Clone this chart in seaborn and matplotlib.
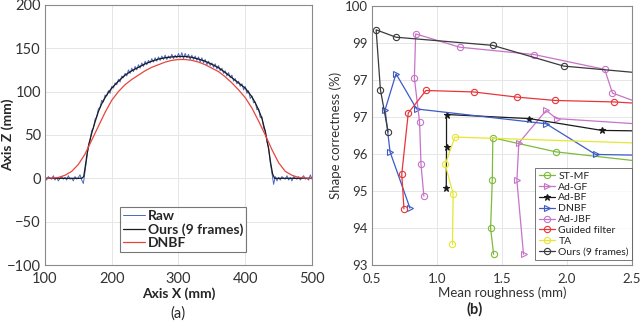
import numpy as np
import pandas as pd
import matplotlib
matplotlib.use("Agg")
import matplotlib.pyplot as plt
import seaborn as sns

sns.set_theme(style="whitegrid")
plt.rcParams['font.family'] = ['Lato', 'DejaVu Sans']

# ---------------- panel (a) data ----------------
raw_z = [
    # 100 .. 155
    1, -2, 2, 0, -1, 3, -2, 1, -3, 0, 2, -1, 1, -2, 3, -1, 0, -3, 2, -1, 1, 4, -2,
    # 157.5 .. 445
    -6, 8, 22, 38, 44, 55, 58, 68, 71, 80, 82, 90, 88, 96, 95, 101, 98, 106, 104, 110,
    108, 114, 111, 118, 116, 121, 118, 125, 121, 127, 123, 129, 125, 131, 127, 133, 129,
    135, 131, 136, 133, 138, 134, 139, 135, 140, 136, 141, 137, 142, 137, 141, 138, 143,
    138, 142, 139, 144, 139, 145, 138, 144, 139, 143, 137, 142, 137, 141, 136, 140, 134,
    139, 133, 137, 131, 135, 130, 133, 128, 132, 126, 130, 124, 127, 121, 124, 118, 122,
    116, 119, 112, 115, 109, 112, 106, 109, 102, 106, 98, 101, 92, 95, 87, 88, 79, 80,
    70, 71, 58, 55, 42, 35, 18, 6, -7, 2,
    # 447.5 .. 500
    -3, 1, -2, 2, 0, -1, 3, -2, 1, -3, 2, 0, -1, 2, -2, 1, 3, -1, 0, -2, 4, -1,
]
raw_x = np.arange(100, 500.01, 2.5)

ours_x = [100, 155, 158, 160, 163, 166, 170, 175, 180, 185, 190, 195, 200, 210, 220,
          230, 240, 250, 260, 270, 280, 290, 300, 310, 320, 330, 340, 350, 360, 370,
          380, 390, 400, 405, 410, 415, 420, 425, 430, 435, 438, 441, 444, 500]
ours_z = [0, 0, 2, 12, 28, 40, 52, 65, 77, 86, 93, 99, 104, 112, 119,
          124, 128, 132, 135, 137.5, 139, 140, 140.5, 140.5, 139.5, 137.5, 135, 131.5, 127.5, 122,
          116, 110, 104, 99, 94, 87, 79, 69, 54, 34, 18, 5, 0, 0]

dnbf_x = [100, 110, 120, 130, 140, 150, 160, 170, 180, 190, 200, 210, 220, 230, 240,
          250, 260, 270, 280, 290, 300, 310, 320, 330, 340, 350, 360, 370, 380, 390,
          400, 410, 420, 430, 440, 450, 460, 470, 480, 490, 500]
dnbf_z = [0, 0.3, 1, 3.5, 8, 16, 28, 44, 60, 76, 90, 100, 108, 114, 119,
          124, 128, 131, 134, 136, 137, 137, 136, 134, 131, 127, 123, 117, 110, 102,
          93, 81, 66, 50, 33, 18, 8, 3.5, 1, 0.3, 0]

# ---------------- panel (b) data ----------------
series_b = {
    "ST-MF": ([1.436, 1.413, 1.426, 1.43, 1.916, 2.7],
              [93.29, 94.0, 95.29, 96.44, 96.06, 95.75]),
    "Ad-GF": ([1.666, 1.615, 1.63, 1.84, 1.92, 2.7],
              [93.29, 95.29, 96.3, 97.18, 96.96, 96.78]),
    "Ad-BF": ([1.072, 1.074, 1.074, 1.71, 2.268, 2.7],
              [95.09, 96.19, 97.07, 96.96, 96.64, 96.62]),
    "DNBF": ([0.793, 0.64, 0.602, 0.686, 0.844, 1.84, 2.22, 2.7],
             [94.54, 96.06, 97.2, 98.17, 97.22, 96.82, 95.99, 95.96]),
    "Ad-JBF": ([0.90, 0.878, 0.867, 0.827, 0.837, 1.176, 1.75, 2.29, 2.35, 2.7],
               [94.86, 95.72, 96.86, 98.06, 99.25, 98.89, 98.69, 98.29, 97.65, 97.2]),
    "Guided filter": ([0.747, 0.73, 0.78, 0.916, 1.283, 1.617, 1.911, 2.362, 2.7],
                      [94.52, 95.46, 97.11, 97.72, 97.68, 97.54, 97.45, 97.41, 97.34]),
    "TA": ([1.12, 1.125, 1.064, 1.138, 2.7],
           [93.56, 94.93, 95.72, 96.46, 96.28]),
    "Ours (9 frames)": ([0.625, 0.566, 0.533, 0.686, 1.429, 1.974, 2.7],
                        [96.6, 97.74, 99.36, 99.16, 98.94, 98.38, 98.15]),
}
colors_b = {
    "ST-MF": "#7dbb3c", "Ad-GF": "#c774c8", "Ad-BF": "#1a1a1a", "DNBF": "#3c5cc4",
    "Ad-JBF": "#c774c8", "Guided filter": "#e8353a", "TA": "#e6e633",
    "Ours (9 frames)": "#3a3a3a",
}
markers_b = {
    "ST-MF": "o", "Ad-GF": ">", "Ad-BF": "*", "DNBF": ">", "Ad-JBF": "o",
    "Guided filter": "o", "TA": "o", "Ours (9 frames)": "o",
}
yticks_b = [93, 94, 95, 96, 97, 98, 99, 100]
yticklabels_b = ["93", "94", "95", "96", "97", "97", "99", "100"]
xticks_b = [0.5, 1.0, 1.5, 2.0, 2.5]

fig = plt.figure(figsize=(6.4, 3.24), dpi=100)
axa = fig.add_axes([0.0703, 0.182, 0.4172, 0.803])
axb = fig.add_axes([0.581, 0.182, 0.4065, 0.799])

grid_col = "#e6e6e6"
spine_col = "#8a8a8a"
for ax in (axa, axb):
    ax.set_facecolor("white")
    ax.grid(True, color=grid_col, linewidth=0.7)
    for s in ax.spines.values():
        s.set_color(spine_col)
        s.set_linewidth(0.8)
    ax.tick_params(direction="in", length=3, color=spine_col, width=0.6)

# panel (a)
sns.lineplot(x=raw_x, y=raw_z, ax=axa, color="#4a68c4", linewidth=0.7,
             estimator=None, sort=False, label="Raw")
sns.lineplot(x=ours_x, y=ours_z, ax=axa, color="#1a1a1a", linewidth=0.9,
             estimator=None, sort=False, label="Ours (9 frames)")
sns.lineplot(x=dnbf_x, y=dnbf_z, ax=axa, color="#e8453c", linewidth=0.9,
             estimator=None, sort=False, label="DNBF")
axa.set_xlim(100, 500)
axa.set_ylim(-100, 200)
axa.set_xticks([100, 200, 300, 400, 500])
axa.set_yticks([-100, -50, 0, 50, 100, 150, 200])
axa.tick_params(axis="both", labelsize=10.5, labelcolor="#333333")
axa.tick_params(axis="x", pad=5)
axa.tick_params(axis="y", pad=3)
axa.set_xlabel("Axis X (mm)", fontsize=10, fontweight="bold", labelpad=1)
axa.set_ylabel("Axis Z (mm)", fontsize=10, fontweight="bold")
axa.yaxis.set_label_coords(-0.115, 0.5)
leg = axa.legend(loc="lower left", bbox_to_anchor=(0.28, 0.05),
                 prop={"weight": "bold", "size": 10}, frameon=True, fancybox=False,
                 borderpad=0.2, labelspacing=0.1, handlelength=1.6, handletextpad=0.2,
                 borderaxespad=0)
leg.get_frame().set_edgecolor("#555555")
leg.get_frame().set_linewidth(0.8)
fig.text(0.278, 0.032, "(a)", ha="center", va="center", fontsize=10.5)

# panel (b)
for name, (xs, ys) in series_b.items():
    ms = 5 if markers_b[name] == "*" else 4.5
    mfc = colors_b[name] if markers_b[name] == "*" else "none"
    sns.lineplot(x=xs, y=ys, ax=axb, color=colors_b[name], linewidth=0.9,
                 marker=markers_b[name], markersize=ms, markerfacecolor=mfc,
                 markeredgecolor=colors_b[name], markeredgewidth=0.8,
                 estimator=None, sort=False, label=name)
axb.set_xlim(0.5, 2.5)
axb.set_ylim(93, 100)
axb.set_xticks(xticks_b)
axb.set_xticklabels([f"{v:.1f}" for v in xticks_b])
axb.set_yticks(yticks_b)
axb.set_yticklabels(yticklabels_b)
axb.tick_params(axis="both", labelsize=9.5, labelcolor="#333333")
axb.tick_params(axis="x", pad=6)
axb.tick_params(axis="y", pad=3)
axb.set_xlabel("Mean roughness (mm)", fontsize=9.5, labelpad=1, color="#333333")
axb.set_ylabel("Shape correctness (%)", fontsize=9.5, labelpad=2, color="#333333")
legb = axb.legend(loc="lower right", bbox_to_anchor=(1.0, 0.02), fontsize=7.5,
                  frameon=True, fancybox=False, borderpad=0.3, labelspacing=0.15,
                  handlelength=1.6, handletextpad=0.3, borderaxespad=0)
legb.get_frame().set_edgecolor("#555555")
legb.get_frame().set_linewidth(0.7)
for t in legb.get_texts():
    t.set_color("#222222")
fig.text(0.742, 0.045, "(b)", ha="center", va="center", fontsize=10.5, fontweight="bold")

fig.savefig("out.png", dpi=100)
